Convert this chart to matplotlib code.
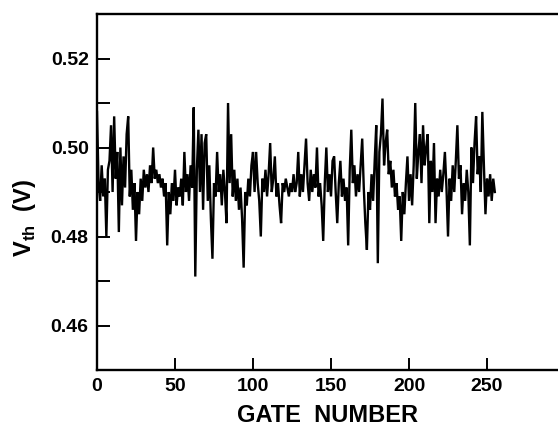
import numpy as np
import matplotlib
matplotlib.use("Agg")
import matplotlib.pyplot as plt
from matplotlib.ticker import MultipleLocator

plt.rcParams["font.family"] = ["Liberation Sans", "DejaVu Sans"]
plt.rcParams["font.weight"] = "bold"
plt.rcParams["mathtext.fontset"] = "custom"
plt.rcParams["mathtext.rm"] = "Liberation Sans:bold"
plt.rcParams["mathtext.bf"] = "Liberation Sans:bold"

# threshold voltage per gate, in mV
vth_mv = [
    508, 492, 488, 496, 489, 493, 480, 495, 497, 505, 490, 507, 493, 499, 481, 500,
    487, 498, 491, 503, 507, 489, 495, 486, 492, 479, 490, 485, 493, 488, 495, 491,
    494, 490, 496, 492, 500, 493, 495, 492, 494, 491, 493, 489, 492, 478, 490, 485,
    492, 488, 495, 487, 491, 489, 493, 487, 499, 490, 494, 488, 496, 491, 509, 471,
    495, 504, 490, 503, 486, 501, 503, 488, 496, 484, 475, 492, 489, 499, 490, 494,
    487, 495, 490, 483, 510, 492, 503, 489, 495, 488, 493, 486, 491, 484, 473, 490,
    487, 493, 489, 496, 499, 490, 499, 492, 488, 480, 493, 490, 495, 489, 494, 501,
    490, 493, 498, 489, 492, 487, 483, 492, 490, 493, 491, 489, 492, 490, 494, 490,
    492, 499, 489, 494, 490, 496, 502, 492, 488, 495, 490, 494, 491, 500, 489, 492,
    487, 479, 492, 500, 490, 494, 489, 497, 498, 490, 483, 492, 497, 489, 493, 488,
    491, 478, 495, 504, 492, 496, 489, 494, 490, 496, 502, 491, 483, 477, 490, 486,
    494, 488, 497, 505, 474, 499, 503, 511, 496, 501, 504, 494, 497, 491, 495, 489,
    492, 486, 489, 479, 490, 485, 492, 498, 488, 494, 487, 496, 510, 493, 499, 503,
    492, 505, 496, 500, 503, 483, 497, 490, 501, 483, 493, 489, 495, 490, 494, 499,
    491, 480, 493, 488, 496, 490, 497, 505, 493, 496, 485, 492, 488, 495, 490, 478,
    500, 492, 501, 507, 494, 498, 490, 508, 496, 485, 493, 489, 494, 488, 493, 490,
]
gate = np.arange(len(vth_mv))
vth = np.array(vth_mv) / 1000.0

x_ticks = [0, 50, 100, 150, 200, 250]
y_ticks = [0.46, 0.48, 0.50, 0.52]

fig = plt.figure(figsize=(5.58, 4.29), dpi=100)
ax = fig.add_axes([97 / 558, 59 / 429, 461 / 558, 356 / 429])

ax.plot(gate, vth, color="black", linewidth=1.7, solid_joinstyle="miter")

ax.set_xlim(0, 295.5)
ax.set_ylim(0.45, 0.53)
ax.set_xticks(x_ticks)
ax.set_yticks(y_ticks)
ax.yaxis.set_minor_locator(MultipleLocator(0.01))
ax.set_yticklabels([f"{v:.2f}" for v in y_ticks])

ax.tick_params(axis="both", which="both", direction="in", length=9,
               width=1.4, labelsize=14, pad=6)
ax.tick_params(axis="x", which="minor", length=0)
for lbl in ax.get_xticklabels() + ax.get_yticklabels():
    lbl.set_fontweight("bold")

for side in ["left", "bottom", "top"]:
    ax.spines[side].set_linewidth(1.7)
ax.spines["right"].set_visible(False)

ax.set_xlabel("GATE  NUMBER", fontsize=17, fontweight="bold", labelpad=6)
fig.text(25 / 558, 1 - 218 / 429, r"V$_{\mathrm{th}}$  (V)", rotation=90,
         fontsize=17, fontweight="bold", ha="center", va="center")

fig.savefig("out.png", dpi=100)
